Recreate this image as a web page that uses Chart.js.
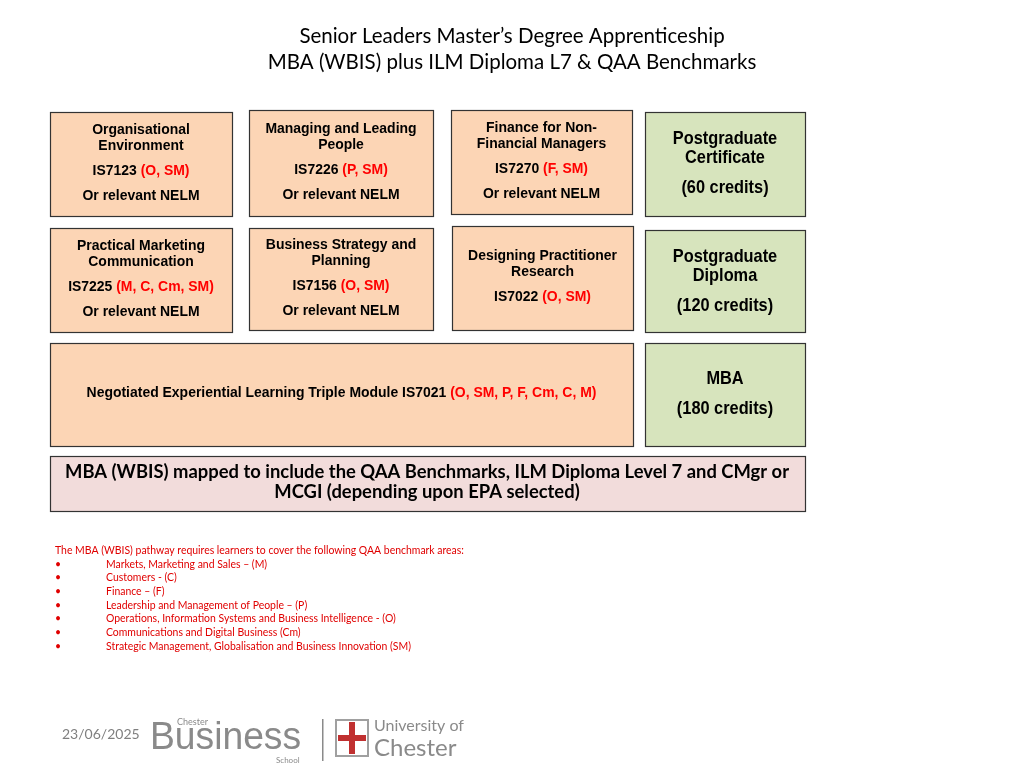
<!DOCTYPE html>
<html><head><meta charset="utf-8">
<script src="https://cdn.jsdelivr.net/npm/chart.js@4/dist/chart.umd.min.js"></script>
<style>html,body{margin:0;padding:0;background:#fff}canvas{display:block}</style>
</head><body>
<canvas id="c" width="1024" height="768"></canvas>
<script>
const titleLines = ["Senior Leaders Master\u2019s Degree Apprenticeship","MBA (WBIS) plus ILM Diploma L7 & QAA Benchmarks"];
const R="#ff0000", K="#000000";
const modules = [
 [[["Organisational",K]],[["Environment",K]],[],[["IS7123 ",K],["(O, SM)",R]],[],[["Or relevant NELM",K]]],
 [[["Managing and Leading",K]],[["People",K]],[],[["IS7226 ",K],["(P, SM)",R]],[],[["Or relevant NELM",K]]],
 [[["Finance for Non-",K]],[["Financial Managers",K]],[],[["IS7270 ",K],["(F, SM)",R]],[],[["Or relevant NELM",K]]],
 [[["Practical Marketing",K]],[["Communication",K]],[],[["IS7225 ",K],["(M, C, Cm, SM)",R]],[],[["Or relevant NELM",K]]],
 [[["Business Strategy and",K]],[["Planning",K]],[],[["IS7156 ",K],["(O, SM)",R]],[],[["Or relevant NELM",K]]],
 [[["Designing Practitioner",K]],[["Research",K]],[],[["IS7022 ",K],["(O, SM)",R]]],
 [[["Negotiated Experiential Learning Triple Module IS7021 ",K],["(O, SM, P, F, Cm, C, M)",R]]]
];
const awards = [
 [[["Postgraduate",K]],[["Certificate",K]],[],[["(60 credits)",K]]],
 [[["Postgraduate",K]],[["Diploma",K]],[],[["(120 credits)",K]]],
 [[["MBA",K]],[],[["(180 credits)",K]]]
];
const summary = ["MBA (WBIS) mapped to include the QAA Benchmarks, ILM Diploma Level 7 and CMgr or","MCGI (depending upon EPA selected)"];
const noteHead = "The MBA (WBIS) pathway requires learners to cover the following QAA benchmark areas:";
const noteItems = ["Markets, Marketing and Sales \u2013 (M)","Customers - (C)","Finance \u2013 (F)","Leadership and Management of People \u2013 (P)","Operations, Information Systems and Business Intelligence - (O)","Communications and Digital Business (Cm)","Strategic Management, Globalisation and Business Innovation (SM)"];
const dateText = "23/06/2025";

const modBoxes = [[50,112,182,104,122],[249,110,184,106,121],[451,110,181,104,120],[50,228,182,104,238],[249,228,184,102,237],[452,226,181,104,248],[50,343,583,103,385]];
const awBoxes = [[645,112,160,104,129],[645,230,160,102,247],[645,343,160,103,369]];

const slide = {id:'slide', afterDraw(ch){
 const c=ch.ctx; c.save();
 c.textBaseline='top';
 c.font='20.5px Lato, "Open Sans", sans-serif'; c.fillStyle='#000'; c.textAlign='center';
 titleLines.forEach((t,i)=>c.fillText(t,512,26+i*26));
 function box(b,fill){c.fillStyle=fill;c.fillRect(b[0]+.5,b[1]+.5,b[2],b[3]);c.strokeStyle='#333';c.lineWidth=1.2;c.strokeRect(b[0]+.5,b[1]+.5,b[2],b[3]);}
 function rich(lines,cx,y0,font,lh,gap,N){
  c.font=font; c.textAlign='left'; let y=y0;
  lines.forEach(l=>{ if(!l.length){y+=gap;return;}
   const w=l.reduce((s,g)=>s+c.measureText(g[0]).width,0)*N; let x=cx-w/2;
   l.forEach(g=>{c.save();c.translate(x,y);c.scale(N,1);c.fillStyle=g[1];c.fillText(g[0],0,0);c.restore();x+=c.measureText(g[0]).width*N;}); y+=lh;});
 }
 modBoxes.forEach((b,i)=>{box(b,'#fcd5b5');rich(modules[i],b[0]+b[2]/2,b[4],'bold 15.5px "Liberation Sans", sans-serif',16,9,0.9);});
 awBoxes.forEach((b,i)=>{box(b,'#d7e4bd');rich(awards[i],b[0]+b[2]/2,b[4],'bold 19px "Liberation Sans", sans-serif',19,11,0.86);});
 box([50,456,755,55],'#f2dcdb');
 c.fillStyle='#000'; c.textAlign='center'; c.font='bold 18.4px Lato, "Open Sans", sans-serif';
 summary.forEach((t,i)=>c.fillText(t,427,463+i*20));
 c.fillStyle='#e00000'; c.textAlign='left'; c.font='10.45px Lato, "Open Sans", sans-serif';
 c.fillText(noteHead,55,545);
 noteItems.forEach((t,i)=>{c.fillText('\u2022',55,559+i*13.7);c.fillText(t,106,559+i*13.7);});
 c.fillStyle='#7f7f7f'; c.font='14px Lato, "Open Sans", sans-serif'; c.fillText(dateText,62,727);
 c.fillStyle='#8a8a8a'; c.font='9px Lato, sans-serif'; c.fillText('Chester',177,718);
 c.save();c.translate(150,720);c.scale(0.98,1);c.font='38px "Liberation Sans", sans-serif'; c.fillText('Business',0,0);c.restore();
 c.font='8px Lato, sans-serif'; c.fillText('School',276,756);
 c.fillRect(322,719,1.5,42);
 c.strokeStyle='#a0a0a0'; c.lineWidth=2; c.strokeRect(336,720,32,36);
 c.fillStyle='#c03030'; c.fillRect(349,722,6,32); c.fillRect(338,735,28,6);
 c.fillStyle='#8a8a8a'; c.font='16px Lato, sans-serif'; c.fillText('University of',374,718);
 c.font='24px Lato, sans-serif'; c.fillText('Chester',374,736);
 c.restore();
}};
new Chart(document.getElementById('c'),{type:'bar',data:{labels:[],datasets:[]},
 options:{responsive:false,animation:false,events:[],plugins:{legend:{display:false},tooltip:{enabled:false}},
  scales:{x:{display:false},y:{display:false}}},plugins:[slide]});
</script>
</body></html>
